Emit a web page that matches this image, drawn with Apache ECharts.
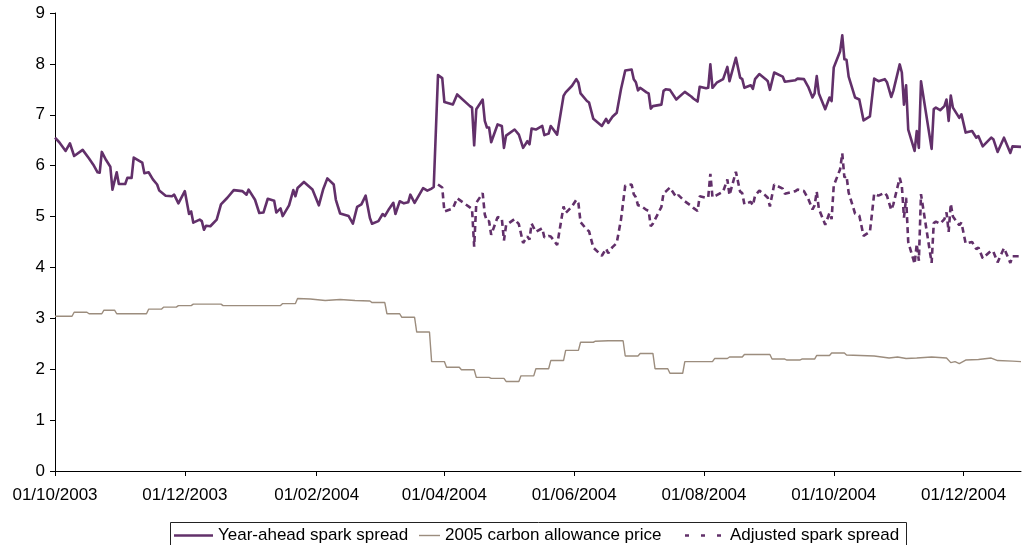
<!DOCTYPE html>
<html><head><meta charset="utf-8">
<script src="https://cdn.jsdelivr.net/npm/echarts@6/dist/echarts.min.js"></script>
<style>html,body{margin:0;padding:0;background:#fff}#c{width:1022px;height:545px}</style>
</head><body><div id="c"></div>
<script>
// ---- data ----
const startDate = '01/10/2003';
const endDay = 454;
const tickLabels = ['01/10/2003','01/12/2003','01/02/2004','01/04/2004','01/06/2004','01/08/2004','01/10/2004','01/12/2004'];
const seriesNames = ['Year-ahead spark spread','2005 carbon allowance price','Adjusted spark spread'];

// days after 01/10/2003
const sparkDays = [
0,2,5,7,9,13,16,18,20,21,
22,24,26,27,29,30,33,34,36,37,
41,42,44,46,48,49,52,55,56,58,
61,63,64,65,68,69,70,71,73,76,
78,81,84,88,90,91,94,96,98,100,
103,104,106,107,110,112,113,114,117,121,
124,126,128,131,132,134,138,140,142,144,
146,148,149,152,154,155,157,159,160,162,
164,166,167,169,173,175,177,178,180,182,
183,187,189,195,196,197,198,201,202,203,
204,205,208,210,211,212,216,218,220,222,
223,224,226,229,230,232,233,236,239,240,
243,245,246,247,250,251,253,257,259,260,
262,264,266,268,271,272,273,274,275,278,
279,280,281,285,286,287,289,292,293,296,
299,300,302,303,306,307,308,309,311,314,
316,317,320,322,323,324,327,328,329,331,
334,335,336,338,342,343,348,349,352,354,
356,357,358,359,362,364,365,366,369,370,
371,372,373,376,378,380,383,385,387,390,
391,393,394,397,398,399,400,401,404,405,
406,407,412,413,414,416,418,419,420,421,
422,425,426,428,431,433,434,436,440,441,
443,446,449,450,454];
const sparkValues = [
6.55,6.46,6.29,6.44,6.19,6.31,6.14,6.02,5.87,5.86,
6.27,6.11,5.98,5.53,5.87,5.64,5.64,5.76,5.76,6.16,
6.06,5.85,5.87,5.73,5.63,5.51,5.41,5.40,5.43,5.26,
5.50,5.05,5.10,4.88,4.94,4.91,4.74,4.82,4.81,4.94,
5.24,5.37,5.52,5.50,5.43,5.53,5.33,5.07,5.08,5.35,
5.31,5.08,5.16,5.01,5.22,5.52,5.40,5.56,5.68,5.53,
5.22,5.53,5.75,5.63,5.33,5.06,5.01,4.86,5.19,5.24,
5.41,4.97,4.86,4.91,5.05,5.01,5.15,5.27,5.05,5.30,
5.26,5.28,5.43,5.27,5.56,5.51,5.55,5.58,7.78,7.72,
7.25,7.20,7.40,7.17,7.14,6.40,7.11,7.30,6.88,6.75,
6.75,6.46,6.81,6.78,6.35,6.59,6.71,6.61,6.35,6.48,
6.42,6.73,6.71,6.78,6.60,6.63,6.78,6.61,7.37,7.44,
7.57,7.70,7.63,7.42,7.27,7.24,6.92,6.78,6.92,6.84,
6.96,7.04,7.50,7.87,7.89,7.70,7.64,7.48,7.53,7.44,
7.42,7.12,7.17,7.20,7.47,7.50,7.49,7.30,7.34,7.45,
7.36,7.32,7.26,7.55,7.52,7.53,7.99,7.53,7.63,7.70,
7.94,7.66,8.12,7.73,7.70,7.53,7.58,7.51,7.70,7.80,
7.70,7.66,7.49,7.83,7.75,7.65,7.68,7.71,7.70,7.55,
7.34,7.42,7.76,7.42,7.11,7.34,7.27,7.93,8.25,8.56,
8.09,8.08,7.75,7.34,7.30,6.89,6.97,7.71,7.66,7.70,
7.64,7.35,7.47,7.99,7.83,7.20,7.58,6.71,6.29,6.68,
6.35,7.66,6.33,7.11,7.14,7.09,7.17,7.30,6.88,7.38,
7.14,6.94,7.01,6.65,6.68,6.55,6.58,6.38,6.55,6.52,
6.27,6.55,6.25,6.38,6.37];

const carbonDays = [
0,8,9,15,16,22,23,28,29,43,
44,50,51,57,58,64,65,78,79,106,
107,113,114,120,127,134,141,148,149,155,
156,162,163,169,170,176,177,183,184,190,
191,197,198,204,205,211,212,218,219,225,
226,232,233,239,240,246,247,253,254,260,
267,268,274,275,281,282,288,289,295,296,
309,310,316,317,323,324,336,337,343,344,
350,351,357,358,364,365,371,372,385,392,
396,400,405,412,419,421,423,425,428,434,
440,443,450,454];
const carbonValues = [
3.04,3.04,3.12,3.12,3.09,3.09,3.16,3.16,3.09,3.09,
3.18,3.18,3.22,3.22,3.25,3.25,3.28,3.28,3.25,3.25,
3.29,3.29,3.39,3.38,3.35,3.37,3.35,3.34,3.31,3.31,
3.09,3.09,3.02,3.02,2.73,2.73,2.15,2.15,2.04,2.04,
1.99,1.99,1.84,1.84,1.82,1.82,1.76,1.76,1.87,1.87,
2.01,2.01,2.17,2.17,2.37,2.37,2.53,2.53,2.55,2.56,
2.56,2.26,2.26,2.31,2.31,2.01,2.01,1.92,1.92,2.15,
2.15,2.21,2.21,2.24,2.24,2.29,2.29,2.20,2.20,2.18,
2.18,2.20,2.20,2.27,2.27,2.32,2.32,2.28,2.26,2.22,
2.24,2.21,2.22,2.24,2.22,2.13,2.15,2.11,2.18,2.19,
2.22,2.17,2.16,2.15];

const adjustedDays = [
180,182,183,187,189,195,196,197,198,201,
202,203,204,205,208,210,211,212,216,218,
220,222,223,224,226,229,230,232,233,236,
239,240,243,245,246,247,250,251,253,257,
259,260,262,264,266,268,271,272,273,274,
275,278,279,280,281,285,286,287,289,292,
293,296,299,300,302,303,306,307,308,309,
311,314,316,317,320,322,323,324,327,328,
329,331,334,335,336,338,342,343,348,349,
352,354,356,357,358,359,362,364,365,366,
369,370,371,372,373,376,378,380,383,385,
387,390,391,393,394,397,398,399,400,401,
404,405,406,407,412,413,414,416,418,419,
420,421,422,425,426,428,431,433,434,436,
440,441,443,446,449,450,454];
const adjustedValues = [
5.63,5.57,5.10,5.16,5.36,5.18,5.15,4.41,5.27,5.46,
5.04,4.91,4.91,4.64,4.99,4.96,4.53,4.83,4.95,4.85,
4.48,4.61,4.55,4.86,4.70,4.77,4.59,4.62,4.61,4.44,
5.20,5.07,5.20,5.33,5.26,4.89,4.74,4.71,4.39,4.23,
4.37,4.28,4.40,4.48,4.94,5.61,5.63,5.44,5.38,5.22,
5.22,5.13,5.11,4.81,4.86,5.19,5.46,5.49,5.57,5.38,
5.42,5.30,5.21,5.17,5.11,5.40,5.37,5.38,5.84,5.38,
5.42,5.49,5.73,5.42,5.88,5.49,5.46,5.24,5.29,5.22,
5.41,5.51,5.41,5.37,5.20,5.63,5.55,5.45,5.50,5.53,
5.50,5.35,5.14,5.22,5.49,5.15,4.84,5.07,4.95,5.61,
5.93,6.24,5.77,5.80,5.47,5.06,5.02,4.62,4.70,5.45,
5.41,5.47,5.41,5.13,5.24,5.76,5.60,4.98,5.37,4.50,
4.07,4.46,4.13,5.44,4.09,4.87,4.90,4.86,4.95,5.08,
4.70,5.25,5.00,4.83,4.88,4.47,4.50,4.36,4.39,4.18,
4.33,4.31,4.10,4.38,4.09,4.22,4.22];

// ---- build ----
function parseDMY(s){ const p = s.split('/').map(Number); return Date.UTC(p[2], p[1]-1, p[0]); }
const base = parseDMY(startDate);
const tickDays = tickLabels.map(s => Math.round((parseDMY(s) - base) / 86400000));
const zip = (xs, ys) => xs.map((x, i) => [x, ys[i]]);

const FONT = "'Liberation Sans', Arial, sans-serif";
const PURPLE = '#62306a';
const GREY = '#9c8d7e';
const txt = { fontFamily: FONT, fontSize: 17, color: '#000' };

const ICON_1 = 'path://M0,0H39V2.6H0Z';
const ICON_2 = 'path://M0,0H21V1.4H0Z';
const ICON_3 = 'path://M0,0H4V2.6H0Z M16,0H20V2.6H16Z M32,0H36V2.6H32Z';

const chart = echarts.init(document.getElementById('c'), null, { renderer: 'canvas' });
chart.setOption({
  animation: false,
  backgroundColor: '#fff',
  grid: { left: 55, right: 1, top: 13, bottom: 74, containLabel: false },
  xAxis: {
    type: 'value', min: 0, max: endDay,
    splitLine: { show: false },
    axisLine: { lineStyle: { color: '#000', width: 1 } },
    axisTick: { show: true, length: 5, lineStyle: { color: '#000' }, customValues: tickDays },
    axisLabel: Object.assign({ margin: 16, customValues: tickDays,
      formatter: v => { const i = tickDays.indexOf(Math.round(v)); return i >= 0 ? tickLabels[i] : ''; } }, txt)
  },
  yAxis: {
    type: 'value', min: 0, max: 9, interval: 1,
    splitLine: { show: false },
    axisLine: { show: true, lineStyle: { color: '#000', width: 1 } },
    axisTick: { show: true, length: 5, lineStyle: { color: '#000' } },
    axisLabel: Object.assign({ margin: 10 }, txt)
  },
  graphic: [{
    type: 'rect', silent: true,
    shape: { x: 170.5, y: 522.5, width: 736, height: 40 },
    style: { fill: 'none', stroke: '#222', lineWidth: 1 }
  }],
  legend: [
    { data: [{ name: seriesNames[0], icon: ICON_1, itemStyle: { color: PURPLE, borderWidth: 0 } }],
      left: 174, top: 527, itemWidth: 39, itemHeight: 2.6,
      padding: 0, selectedMode: false, textStyle: txt },
    { data: [{ name: seriesNames[1], icon: ICON_2, itemStyle: { color: GREY, borderWidth: 0 } }],
      left: 419, top: 527, itemWidth: 21, itemHeight: 1.4,
      padding: 0, selectedMode: false, textStyle: txt },
    { data: [{ name: seriesNames[2], icon: ICON_3, itemStyle: { color: PURPLE, borderWidth: 0 } }],
      left: 685, top: 527, itemWidth: 36, itemHeight: 2.6,
      padding: 0, selectedMode: false, textStyle: Object.assign({ padding: [0, 0, 0, 4] }, txt) }
  ],
  series: [
    { name: seriesNames[1], type: 'line', data: zip(carbonDays, carbonValues), symbol: 'none',
      lineStyle: { color: GREY, width: 1.4 }, itemStyle: { color: GREY }, z: 2 },
    { name: seriesNames[0], type: 'line', data: zip(sparkDays, sparkValues), symbol: 'none',
      lineStyle: { color: PURPLE, width: 2.6, join: 'round' }, itemStyle: { color: PURPLE }, z: 3 },
    { name: seriesNames[2], type: 'line', data: zip(adjustedDays, adjustedValues), symbol: 'none',
      lineStyle: { color: PURPLE, width: 2.6, type: [6, 4] }, itemStyle: { color: PURPLE }, z: 3 }
  ]
});
</script></body></html>
